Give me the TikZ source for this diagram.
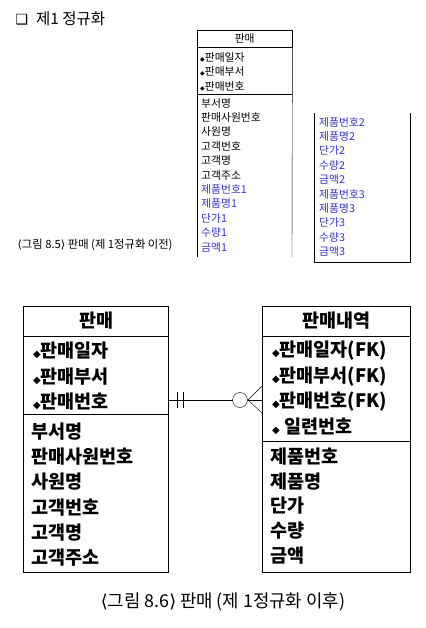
\documentclass[tikz,border=0pt]{standalone}
\usepackage{fontspec}
\setmainfont{Noto Sans CJK KR}
\newfontfamily\symfont{DejaVu Sans}
\usetikzlibrary{positioning}
\definecolor{attrblue}{RGB}{51,51,204}
\tikzset{
  row/.style={anchor=west, inner sep=0pt},
  smallrow/.style={row, font=\fontsize{10.8}{12}\selectfont},
  bigrow/.style={row, font=\fontsize{18.5}{20}\selectfont\bfseries},
  entity/.style={draw, line width=1.4pt, anchor=north west, inner sep=0pt},
}
\newcommand{\pkmark}[1]{{\symfont\fontsize{#1}{#1}\selectfont ◆}}
\newcommand{\lbr}{{\symfont ⟨}}
\newcommand{\rbr}{{\symfont ⟩}}
\begin{document}
\begin{tikzpicture}[x=1pt,y=-1pt]
\useasboundingbox (0,0) rectangle (425,628);
\node[anchor=west, font=\fontsize{15.5}{17}\selectfont] (title) at (12,19) {{\symfont\fontsize{14}{14}\selectfont ❑}\hspace{8pt}제1 정규화};
% before: one table, repeated groups
\node[draw, anchor=north west, inner sep=0pt, minimum width=95pt, minimum height=17pt,
  font=\fontsize{10.8}{12}\selectfont] (t1head) at (197,30) {판매};
\draw (t1head.south west) -- (197,257);
\draw (t1head.south east) -- (292,257);
\draw (197,94) -- (292,94);
\foreach \t [count=\i] in {판매일자,판매부서,판매번호}
  \node[smallrow] (t1k\i) at (200,{43+14.4*\i}) {\pkmark{6}\t};
\foreach \t [count=\i] in {부서명,판매사원번호,사원명,고객번호,고객명,고객주소}
  \node[smallrow] (t1a\i) at (201,{88.6+14.4*\i}) {\t};
\foreach \t [count=\i] in {제품번호1,제품명1,단가1,수량1,금액1}
  \node[smallrow, text=attrblue] (t1b\i) at (201,{175+14.4*\i}) {\t};
\draw (314,113) -- (314,262) -- (410,262) -- (410,113);
\foreach \t [count=\i] in {제품번호2,제품명2,단가2,수량2,금액2,제품번호3,제품명3,단가3,수량3,금액3}
  \node[smallrow, text=attrblue] (t2a\i) at (319,{107.6+14.4*\i}) {\t};
\node[anchor=west, font=\fontsize{11.3}{12}\selectfont] (cap85) at (14,245) {\lbr 그림 8.5\rbr\ 판매 (제 1정규화 이전)};
% after: two entities
\node[entity, minimum width=145pt, minimum height=266pt] (sale) at (23,306) {};
\node[entity, minimum width=148pt, minimum height=266pt] (detail) at (262,306) {};
\draw ([yshift=-30pt]sale.north west) -- ([yshift=-30pt]sale.north east);
\draw ([yshift=-108pt]sale.north west) -- ([yshift=-108pt]sale.north east);
\draw ([yshift=-30pt]detail.north west) -- ([yshift=-30pt]detail.north east);
\draw ([yshift=-135pt]detail.north west) -- ([yshift=-135pt]detail.north east);
\node[font=\fontsize{18.5}{20}\selectfont\bfseries] (salehead) at ([yshift=-15pt]sale.north) {판매};
\node[font=\fontsize{18.5}{20}\selectfont\bfseries] (detailhead) at ([yshift=-15pt]detail.north) {판매내역};
\foreach \t [count=\i] in {판매일자,판매부서,판매번호}
  \node[bigrow] (salek\i) at (33,{325.5+25.3*\i}) {\pkmark{10}\t};
\foreach \t [count=\i] in {부서명,판매사원번호,사원명,고객번호,고객명,고객주소}
  \node[bigrow] (salea\i) at (31,{406+25.3*\i}) {\t};
\foreach \t [count=\i] in {판매일자(FK),판매부서(FK),판매번호(FK),\ 일련번호}
  \node[bigrow] (detailk\i) at (272,{325.5+25.3*\i}) {\pkmark{10}\t};
\foreach \t [count=\i] in {제품번호,제품명,단가,수량,금액}
  \node[bigrow] (detaila\i) at (270,{431.5+24.8*\i}) {\t};
% relationship
\coordinate (relL) at (sale.east |- 0,400);
\coordinate (relR) at (detail.west |- 0,400);
\draw (relL) -- (relR);
\draw ([xshift=8pt]relL) ++(0,-8) -- ++(0,16);
\draw ([xshift=14pt]relL) ++(0,-8) -- ++(0,16);
\draw[fill=white] ([xshift=-22pt]relR) circle (7.5pt);
\draw ([xshift=-14pt]relR) -- ([yshift=14pt]relR);
\draw ([xshift=-14pt]relR) -- ([yshift=-13pt]relR);
\node[font=\fontsize{17.8}{19}\selectfont] (cap86) at (223,602) {\lbr 그림 8.6\rbr\ 판매 (제 1정규화 이후)};
\end{tikzpicture}
\end{document}
